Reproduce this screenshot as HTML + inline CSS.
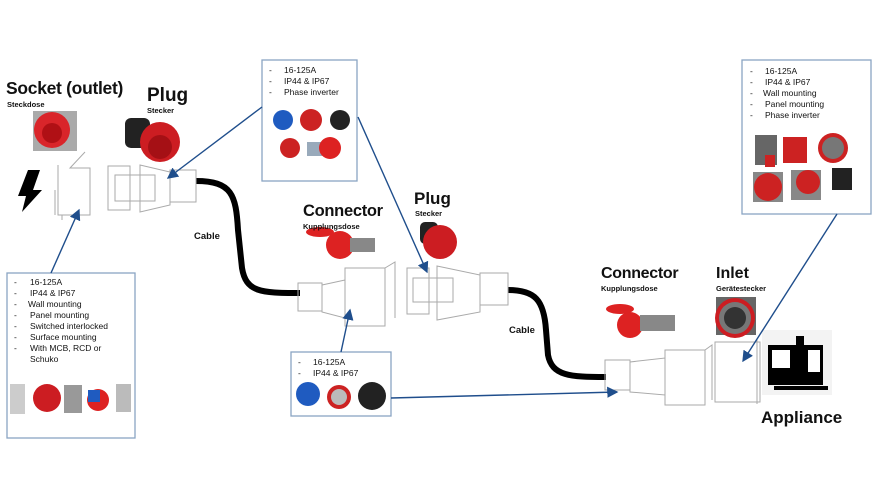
<!DOCTYPE html>
<html><head><meta charset="utf-8"><style>
html,body{margin:0;padding:0;background:#fff}
svg{display:block}
text{font-family:"Liberation Sans",sans-serif;fill:#111}
.b{font-weight:bold}
.li{font-size:8.5px}
.ln{fill:none;stroke:#aaa;stroke-width:1}
.ar{stroke:#1f4e8c;stroke-width:1.4;fill:none}
.bx{fill:none;stroke:#8aa5c2;stroke-width:1.3}
</style></head><body>
<svg width="875" height="499" viewBox="0 0 875 499" xmlns="http://www.w3.org/2000/svg">
<defs><marker id="a" markerWidth="8" markerHeight="8" refX="7" refY="4" orient="auto"><path d="M0,0 L8,4 L0,8 z" fill="#1f4e8c"/></marker></defs>

<path d="M196,181 C232,181 236,195 238,230 L242,268 C246,292 260,293 300,293" stroke="#000" stroke-width="6" fill="none"/>
<path d="M508,290 C535,290 544,300 546,330 L548,355 C552,376 570,377 606,377" stroke="#000" stroke-width="6" fill="none"/>

<path class="ln" d="M55,190 L55,215 M58,165 L58,215 L90,215 L90,168 L70,168 L85,152 M62,215 L62,220"/>
<polygon points="28,170 40,170 33,190 42,190 22,212 26,196 18,196" fill="#000"/>
<g class="ln"><rect x="108" y="166" width="22" height="44"/><rect x="115" y="175" width="40" height="26"/><path d="M140,165 L170,172 L170,205 L140,212 Z"/><rect x="170" y="170" width="26" height="32"/></g>
<g class="ln"><rect x="298" y="283" width="24" height="28"/><path d="M322,285 L345,280 L345,318 L322,312 Z"/><rect x="345" y="268" width="40" height="58"/><path d="M385,268 L395,262 L395,318"/></g>
<g class="ln"><rect x="407" y="268" width="22" height="46"/><rect x="413" y="278" width="40" height="24"/><path d="M437,266 L480,275 L480,312 L437,320 Z"/><rect x="480" y="273" width="28" height="32"/></g>
<g class="ln"><rect x="605" y="360" width="25" height="30"/><path d="M630,362 L665,358 L665,395 L630,392 Z"/><rect x="665" y="350" width="40" height="55"/><path d="M705,350 L712,345 L712,400"/></g>
<g class="ln"><rect x="715" y="342" width="45" height="60"/><line x1="757" y1="340" x2="757" y2="404"/></g>
<rect x="762" y="330" width="70" height="65" fill="#f3f3f3"/>
<rect x="768" y="345" width="55" height="40" fill="#000"/>
<rect x="772" y="350" width="18" height="18" fill="#fff"/><rect x="796" y="336" width="8" height="24" fill="#000"/>
<rect x="808" y="350" width="12" height="22" fill="#fff"/><rect x="774" y="386" width="54" height="4" fill="#000"/>

<g>
<rect x="33" y="111" width="44" height="40" fill="#aaa"/><circle cx="52" cy="130" r="18" fill="#d9252a"/><circle cx="52" cy="133" r="10" fill="#b01015"/>
<rect x="125" y="118" width="25" height="30" rx="6" fill="#222"/><circle cx="160" cy="142" r="20" fill="#cc1d22"/><circle cx="160" cy="147" r="12" fill="#a51015"/>
<circle cx="283" cy="120" r="10" fill="#1f5bc0"/><circle cx="311" cy="120" r="11" fill="#c22"/><circle cx="340" cy="120" r="10" fill="#222"/>
<circle cx="290" cy="148" r="10" fill="#c22"/><rect x="307" y="142" width="15" height="14" fill="#9ab"/><circle cx="330" cy="148" r="11" fill="#d22"/>
<circle cx="340" cy="245" r="14" fill="#d22"/><rect x="350" y="238" width="25" height="14" fill="#888"/><ellipse cx="320" cy="232" rx="14" ry="5" fill="#d22"/>
<rect x="420" y="222" width="18" height="22" rx="5" fill="#222"/><circle cx="440" cy="242" r="17" fill="#cc1d22"/>
<circle cx="630" cy="325" r="13" fill="#d22"/><rect x="640" y="315" width="35" height="16" fill="#888"/><ellipse cx="620" cy="309" rx="14" ry="5" fill="#d22"/>
<rect x="716" y="297" width="40" height="38" fill="#666"/><circle cx="735" cy="318" r="20" fill="#cc1d22"/><circle cx="735" cy="318" r="16" fill="#777"/><circle cx="735" cy="318" r="11" fill="#333"/>
<rect x="10" y="384" width="15" height="30" fill="#ccc"/><circle cx="47" cy="398" r="14" fill="#cc1d22"/><rect x="64" y="385" width="18" height="28" fill="#999"/><circle cx="98" cy="400" r="11" fill="#d22"/><rect x="88" y="390" width="12" height="12" fill="#1f5bc0"/><rect x="116" y="384" width="15" height="28" fill="#bbb"/>
<circle cx="308" cy="394" r="12" fill="#1f5bc0"/><circle cx="339" cy="397" r="12" fill="#c22"/><circle cx="339" cy="397" r="8" fill="#bbb"/><circle cx="372" cy="396" r="14" fill="#222"/>
<rect x="755" y="135" width="22" height="30" fill="#666"/><rect x="765" y="155" width="10" height="12" fill="#c22"/><rect x="783" y="137" width="24" height="26" fill="#c22"/><circle cx="833" cy="148" r="15" fill="#c22"/><circle cx="833" cy="148" r="11" fill="#777"/>
<rect x="753" y="172" width="30" height="30" fill="#888"/><circle cx="768" cy="187" r="14" fill="#c22"/><rect x="791" y="170" width="30" height="30" fill="#888"/><circle cx="808" cy="182" r="12" fill="#c22"/><rect x="832" y="168" width="20" height="22" fill="#222"/>
</g>

<rect class="bx" x="7" y="273" width="128" height="165"/>
<rect class="bx" x="262" y="60" width="95" height="121"/>
<rect class="bx" x="291" y="352" width="100" height="64"/>
<rect class="bx" x="742" y="60" width="129" height="154"/>

<g class="li">
<text x="14" y="285">-</text><text x="30" y="285">16-125A</text>
<text x="14" y="296">-</text><text x="30" y="296">IP44 &amp; IP67</text>
<text x="14" y="307">-</text><text x="28" y="307">Wall mounting</text>
<text x="14" y="318">-</text><text x="30" y="318">Panel mounting</text>
<text x="14" y="329">-</text><text x="30" y="329">Switched interlocked</text>
<text x="14" y="340">-</text><text x="30" y="340">Surface mounting</text>
<text x="14" y="351">-</text><text x="30" y="351">With MCB, RCD or</text>
<text x="30" y="362">Schuko</text>
<text x="269" y="73">-</text><text x="284" y="73">16-125A</text>
<text x="269" y="84">-</text><text x="284" y="84">IP44 &amp; IP67</text>
<text x="269" y="95">-</text><text x="284" y="95">Phase inverter</text>
<text x="298" y="365">-</text><text x="313" y="365">16-125A</text>
<text x="298" y="376">-</text><text x="313" y="376">IP44 &amp; IP67</text>
<text x="750" y="74">-</text><text x="765" y="74">16-125A</text>
<text x="750" y="85">-</text><text x="765" y="85">IP44 &amp; IP67</text>
<text x="750" y="96">-</text><text x="763" y="96">Wall mounting</text>
<text x="750" y="107">-</text><text x="765" y="107">Panel mounting</text>
<text x="750" y="118">-</text><text x="765" y="118">Phase inverter</text>
</g>

<text class="b" x="6" y="94" font-size="17.5" letter-spacing="-0.3">Socket (outlet)</text>
<text class="b" x="7" y="107" font-size="7.5">Steckdose</text>
<text class="b" x="147" y="101" font-size="19">Plug</text>
<text class="b" x="147" y="113" font-size="7.5">Stecker</text>
<text class="b" x="303" y="216" font-size="16.5" letter-spacing="-0.3">Connector</text>
<text class="b" x="303" y="229" font-size="7.5">Kupplungsdose</text>
<text class="b" x="414" y="204" font-size="17">Plug</text>
<text class="b" x="415" y="216" font-size="7.5">Stecker</text>
<text class="b" x="194" y="239" font-size="9.5">Cable</text>
<text class="b" x="509" y="333" font-size="9.5">Cable</text>
<text class="b" x="601" y="278" font-size="16" letter-spacing="-0.3">Connector</text>
<text class="b" x="601" y="291" font-size="7.5">Kupplungsdose</text>
<text class="b" x="716" y="278" font-size="16">Inlet</text>
<text class="b" x="716" y="291" font-size="7.5">Gerätestecker</text>
<text class="b" x="761" y="423" font-size="17">Appliance</text>

<line class="ar" x1="262" y1="107" x2="168" y2="178" marker-end="url(#a)"/>
<line class="ar" x1="358" y1="117" x2="427" y2="272" marker-end="url(#a)"/>
<line class="ar" x1="51" y1="273" x2="79" y2="210" marker-end="url(#a)"/>
<line class="ar" x1="341" y1="352" x2="350" y2="310" marker-end="url(#a)"/>
<line class="ar" x1="391" y1="398" x2="617" y2="392" marker-end="url(#a)"/>
<line class="ar" x1="837" y1="214" x2="743" y2="361" marker-end="url(#a)"/>
</svg>
</body></html>
